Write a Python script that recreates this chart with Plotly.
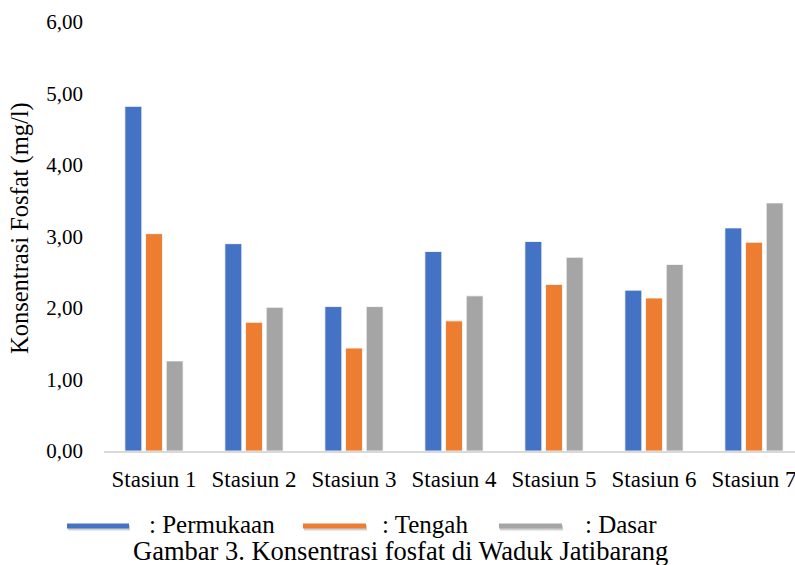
import plotly.graph_objects as go

# Phosphate concentration (mg/l) per station and depth
stations = ["Stasiun 1", "Stasiun 2", "Stasiun 3", "Stasiun 4", "Stasiun 5", "Stasiun 6", "Stasiun 7"]
permukaan = [4.82, 2.90, 2.02, 2.79, 2.93, 2.25, 3.12]
tengah = [3.04, 1.80, 1.44, 1.82, 2.33, 2.14, 2.92]
dasar = [1.26, 2.01, 2.02, 2.17, 2.71, 2.61, 3.47]
y_ticks = [0, 1, 2, 3, 4, 5, 6]
y_tick_text = ["0,00", "1,00", "2,00", "3,00", "4,00", "5,00", "6,00"]

series = [
    (": Permukaan", permukaan, "#4472C4"),
    (": Tengah", tengah, "#ED7D31"),
    (": Dasar", dasar, "#A5A5A5"),
]

FONT = "Liberation Serif, Times New Roman, serif"

fig = go.Figure()
for name, vals, color in series:
    fig.add_trace(go.Bar(
        x=stations, y=vals, name=name,
        marker=dict(color=color, line=dict(color="white", width=0.8)),
        showlegend=False,
    ))

# plot area geometry in pixels (for legend / caption placement)
W, H = 795, 565
L, R, T, B = 104, 0, 22, 114
pw, ph = W - L - R, H - T - B


def px(x):
    return (x - L) / pw


def py(y):
    return (H - B - y) / ph


shapes = []
annotations = []
legend_items = [(67, 129, 147), (303, 366, 380), (499, 562, 583)]
for (x0, x1, tx), (name, _, color) in zip(legend_items, series):
    # soft shadow under the legend line
    shapes.append(dict(type="line", xref="paper", yref="paper",
                       x0=px(x0 + 1), x1=px(x1 + 1), y0=py(528), y1=py(528),
                       line=dict(color="rgba(0,0,0,0.18)", width=5)))
    shapes.append(dict(type="line", xref="paper", yref="paper",
                       x0=px(x0), x1=px(x1), y0=py(526), y1=py(526),
                       line=dict(color=color, width=5)))
    annotations.append(dict(text=name, xref="paper", yref="paper",
                            x=px(tx), y=py(524), xanchor="left", yanchor="middle",
                            showarrow=False, font=dict(family=FONT, size=25, color="black")))

annotations.append(dict(text="Gambar 3. Konsentrasi fosfat di Waduk Jatibarang",
                        xref="paper", yref="paper", x=px(400), y=py(551),
                        xanchor="center", yanchor="middle", showarrow=False,
                        font=dict(family=FONT, size=26.5, color="black")))
annotations.append(dict(text="Konsentrasi Fosfat (mg/l)", xref="paper", yref="paper",
                        x=px(20), y=py(228), xanchor="center", yanchor="middle",
                        textangle=-90, showarrow=False,
                        font=dict(family=FONT, size=24.5, color="black")))

fig.update_layout(
    width=W, height=H,
    margin=dict(l=L, r=R, t=T, b=B, pad=0),
    paper_bgcolor="white", plot_bgcolor="white",
    barmode="group", bargap=0.38, bargroupgap=0.18,
    font=dict(family=FONT, size=20, color="black"),
    shapes=shapes, annotations=annotations,
    showlegend=False,
)
fig.update_xaxes(
    range=[-0.5, 6.41], showgrid=False, zeroline=False,
    showline=True, linecolor="#D9D9D9", linewidth=1.5,
    ticks="", tickfont=dict(family=FONT, size=23, color="black"),
    ticklabelstandoff=7,
)
fig.update_yaxes(
    range=[0, 6], tickvals=y_ticks, ticktext=y_tick_text,
    showgrid=False, zeroline=False, showline=False, ticks="",
    tickfont=dict(family=FONT, size=21, color="black"),
    ticklabelstandoff=20,
)

fig.write_html("out.html")
